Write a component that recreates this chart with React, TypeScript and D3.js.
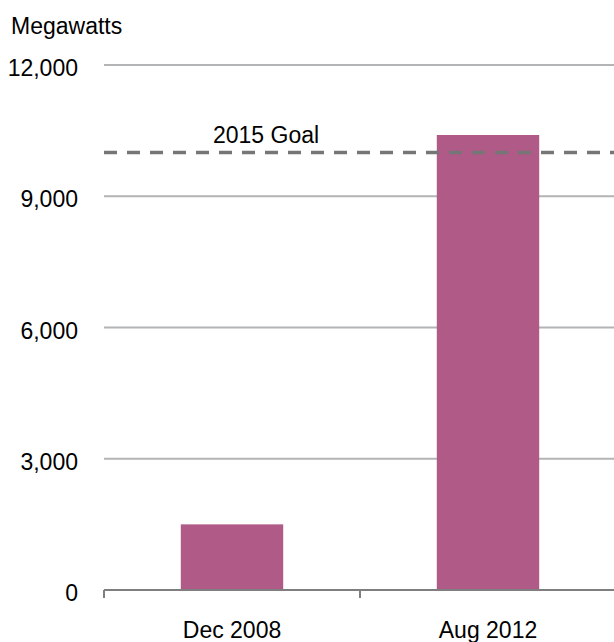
import { useEffect, useRef } from "react";
import * as d3 from "d3";

const categories = ["Dec 2008", "Aug 2012"];
const values = [1500, 10400];
const yTicks = [0, 3000, 6000, 9000, 12000];
const goalValue = 10000;
const goalLabel = "2015 Goal";
const unitLabel = "Megawatts";

const width = 614;
const height = 642;
const margin = { top: 65, right: -2, bottom: 52, left: 104 };
const barColor = "#b05a88";
const font = "'Liberation Sans', Arial, sans-serif";

export default function App() {
  const svgRef = useRef<SVGSVGElement>(null);

  useEffect(() => {
    if (!svgRef.current) return;
    const svg = d3.select(svgRef.current);
    svg.selectAll("*").remove();

    const x = d3
      .scaleBand<string>()
      .domain(categories)
      .range([margin.left, width - margin.right])
      .paddingInner(0.6)
      .paddingOuter(0.3);

    const y = d3
      .scaleLinear()
      .domain([0, 12000])
      .range([height - margin.bottom, margin.top]);

    // gridlines (not at zero)
    svg
      .append("g")
      .selectAll("line")
      .data(yTicks.filter((t) => t > 0))
      .join("line")
      .attr("x1", margin.left)
      .attr("x2", width)
      .attr("y1", (d) => y(d))
      .attr("y2", (d) => y(d))
      .attr("stroke", "#b2b4b5")
      .attr("stroke-width", 2);

    // tick labels
    svg
      .append("g")
      .selectAll("text")
      .data(yTicks)
      .join("text")
      .attr("x", 78)
      .attr("y", (d) => y(d) + 11)
      .attr("text-anchor", "end")
      .attr("font-family", font)
      .attr("font-size", 23)
      .attr("fill", "#000")
      .text((d) => d3.format(",")(d));

    svg
      .append("text")
      .attr("x", 11)
      .attr("y", 34)
      .attr("font-family", font)
      .attr("font-size", 23)
      .attr("fill", "#000")
      .text(unitLabel);

    // bars
    svg
      .append("g")
      .selectAll("rect")
      .data(values)
      .join("rect")
      .attr("x", (_, i) => x(categories[i])!)
      .attr("y", (d) => y(d))
      .attr("width", x.bandwidth())
      .attr("height", (d) => y(0) - y(d))
      .attr("fill", barColor);

    // goal line
    svg
      .append("line")
      .attr("x1", margin.left)
      .attr("x2", width)
      .attr("y1", y(goalValue))
      .attr("y2", y(goalValue))
      .attr("stroke", "#767676")
      .attr("stroke-width", 3.5)
      .attr("stroke-dasharray", "13 10");

    svg
      .append("text")
      .attr("x", 213)
      .attr("y", y(goalValue) - 9.5)
      .attr("font-family", font)
      .attr("font-size", 23)
      .attr("fill", "#000")
      .text(goalLabel);

    // x axis
    const step = x.step();
    const boundaries = categories.map((_, i) => margin.left + i * step);
    svg
      .append("line")
      .attr("x1", margin.left)
      .attr("x2", width)
      .attr("y1", y(0))
      .attr("y2", y(0))
      .attr("stroke", "#7f7f7f")
      .attr("stroke-width", 2);

    svg
      .append("g")
      .selectAll("line")
      .data(boundaries)
      .join("line")
      .attr("x1", (d) => d)
      .attr("x2", (d) => d)
      .attr("y1", y(0))
      .attr("y2", y(0) + 8)
      .attr("stroke", "#7f7f7f")
      .attr("stroke-width", 2);

    svg
      .append("g")
      .selectAll("text")
      .data(categories)
      .join("text")
      .attr("x", (d) => x(d)! + x.bandwidth() / 2)
      .attr("y", 638)
      .attr("text-anchor", "middle")
      .attr("font-family", font)
      .attr("font-size", 23)
      .attr("fill", "#000")
      .text((d) => d);
  }, []);

  return (
    <svg
      ref={svgRef}
      width={width}
      height={height}
      style={{ position: "absolute", left: 0, top: 0, background: "#fff" }}
    />
  );
}
